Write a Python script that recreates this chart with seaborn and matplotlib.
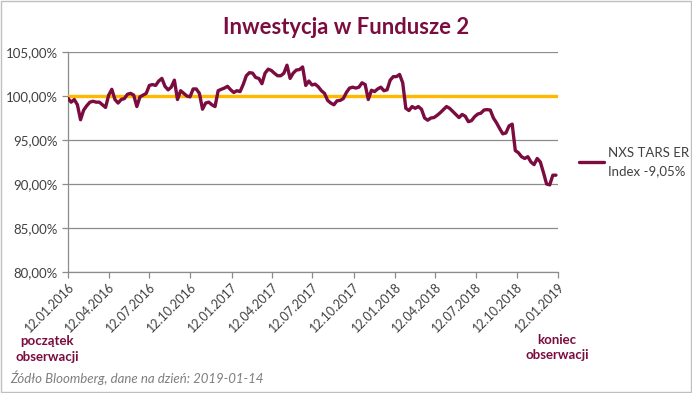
import pandas as pd
import matplotlib.pyplot as plt
import matplotlib.dates as mdates
import matplotlib.ticker as mticker
from matplotlib.patches import Rectangle
import seaborn as sns

# weekly index levels (%)
start_date = '2016-01-12'
index_values = [
    99.73, 99.3, 99.6, 99.0, 97.3, 98.4, 98.9, 99.3, 99.4, 99.3,
    99.3, 99.0, 98.7, 100.1, 100.76, 99.6, 99.2, 99.6, 99.7, 100.2,
    100.3, 100.1, 98.8, 99.9, 100.1, 100.3, 101.2, 101.3, 101.2, 101.7,
    102.0, 101.1, 100.7, 101.0, 101.8, 99.6, 100.6, 100.3, 100.0, 99.9,
    100.8, 100.8, 100.3, 98.5, 99.2, 99.3, 99.0, 98.8, 100.6, 100.76,
    100.9, 101.1, 100.7, 100.4, 100.6, 100.5, 101.3, 102.3, 102.65, 102.6,
    102.1, 102.0, 101.4, 102.6, 103.05, 102.9, 102.58, 102.3, 102.3, 102.58,
    103.5, 102.0, 102.6, 102.95, 103.0, 103.3, 101.2, 101.7, 101.25, 101.35,
    101.05, 100.6, 100.3, 99.5, 99.2, 99.0, 99.45, 99.5, 99.7, 100.4,
    100.9, 101.0, 100.9, 101.0, 101.5, 101.3, 99.6, 100.65, 100.5, 100.8,
    101.0, 100.6, 100.7, 101.8, 102.2, 102.2, 102.45, 101.5, 98.6, 98.35,
    98.8, 98.6, 98.8, 98.5, 97.5, 97.25, 97.5, 97.55, 97.8, 98.1,
    98.45, 98.8, 98.6, 98.25, 97.9, 97.55, 97.9, 97.7, 97.08, 97.2,
    97.65, 97.95, 98.05, 98.41, 98.45, 98.4, 97.5, 96.95, 96.3, 95.7,
    95.8, 96.6, 96.8, 93.8, 93.55, 93.1, 92.9, 93.1, 92.5, 92.2,
    92.9, 92.5, 91.3, 90.0, 89.9, 91.0, 91.0,
]
baseline = 100.0
tick_dates = ['2016-01-12', '2016-04-12', '2016-07-12', '2016-10-12',
              '2017-01-12', '2017-04-12', '2017-07-12', '2017-10-12',
              '2018-01-12', '2018-04-12', '2018-07-12', '2018-10-12',
              '2019-01-12']
series_label = 'NXS TARS ER\nIndex -9,05%'

df = pd.DataFrame({
    'Data': pd.date_range(start_date, periods=len(index_values), freq='7D'),
    'Wartosc': index_values,
})

maroon = '#7B0C3F'
gold = '#FFB800'
grid_col = '#8C8C8C'
txt_col = '#404040'

sns.set_style('white')
plt.rcParams['font.family'] = ['Lato', 'DejaVu Sans']

fig = plt.figure(figsize=(6.92, 3.93), dpi=100)
ax = fig.add_axes([0.0983, 0.3079, 0.7077, 0.5598])

ax.axhline(baseline, color=gold, lw=2.4, zorder=3)
sns.lineplot(data=df, x='Data', y='Wartosc', ax=ax, color=maroon, lw=2.4,
             label=series_label, zorder=4)

ax.set_ylim(80, 105)
ax.set_yticks([80, 85, 90, 95, 100, 105])
ax.yaxis.set_major_formatter(mticker.FuncFormatter(lambda v, p: f'{v:.2f}%'.replace('.', ',')))
ax.yaxis.grid(True, color=grid_col, lw=0.9)
ticks = pd.to_datetime(tick_dates)
ax.set_xlim(ticks[0], ticks[-1])
ax.set_xticks(ticks)
ax.xaxis.set_major_formatter(mdates.DateFormatter('%d.%m.%Y'))
ax.set_xlabel('')
ax.set_ylabel('')

for s in ['top', 'right']:
    ax.spines[s].set_visible(False)
for s in ['left', 'bottom']:
    ax.spines[s].set_color(grid_col)
    ax.spines[s].set_linewidth(0.9)
ax.tick_params(axis='both', which='major', length=4, width=0.9, color=grid_col,
               labelsize=9.5, labelcolor=txt_col, direction='out', bottom=True, left=True)
ax.tick_params(axis='x', labelsize=9, pad=2)
plt.setp(ax.get_xticklabels(), rotation=45, ha='right', rotation_mode='anchor')

leg = ax.legend(loc='center left', bbox_to_anchor=(1.02, 0.5), frameon=False,
                fontsize=9.5, handlelength=1.9, handletextpad=0.3, labelcolor=txt_col)
for t in leg.get_texts():
    t.set_linespacing(1.6)

fig.text(0.5, 0.93, 'Inwestycja w Fundusze 2', ha='center', va='center',
         fontsize=15.8, fontweight='bold', color=maroon)
fig.text(0.068, 0.112, 'początek\nobserwacji', ha='center', va='center',
         fontsize=9.5, fontweight='bold', color=maroon, linespacing=1.35)
fig.text(0.805, 0.116, 'koniec\nobserwacji', ha='center', va='center',
         fontsize=9.5, fontweight='bold', color=maroon, linespacing=1.35)
fig.text(0.014, 0.038, 'Źódło Bloomberg, dane na dzień: 2019-01-14', ha='left', va='center',
         fontsize=9.5, style='italic', color='#7F7F7F')

fig.patches.append(Rectangle((0.002, 0.003), 0.996, 0.994, transform=fig.transFigure,
                             fill=False, edgecolor='#BFBFBF', lw=1))

fig.savefig('out.png', dpi=100)
